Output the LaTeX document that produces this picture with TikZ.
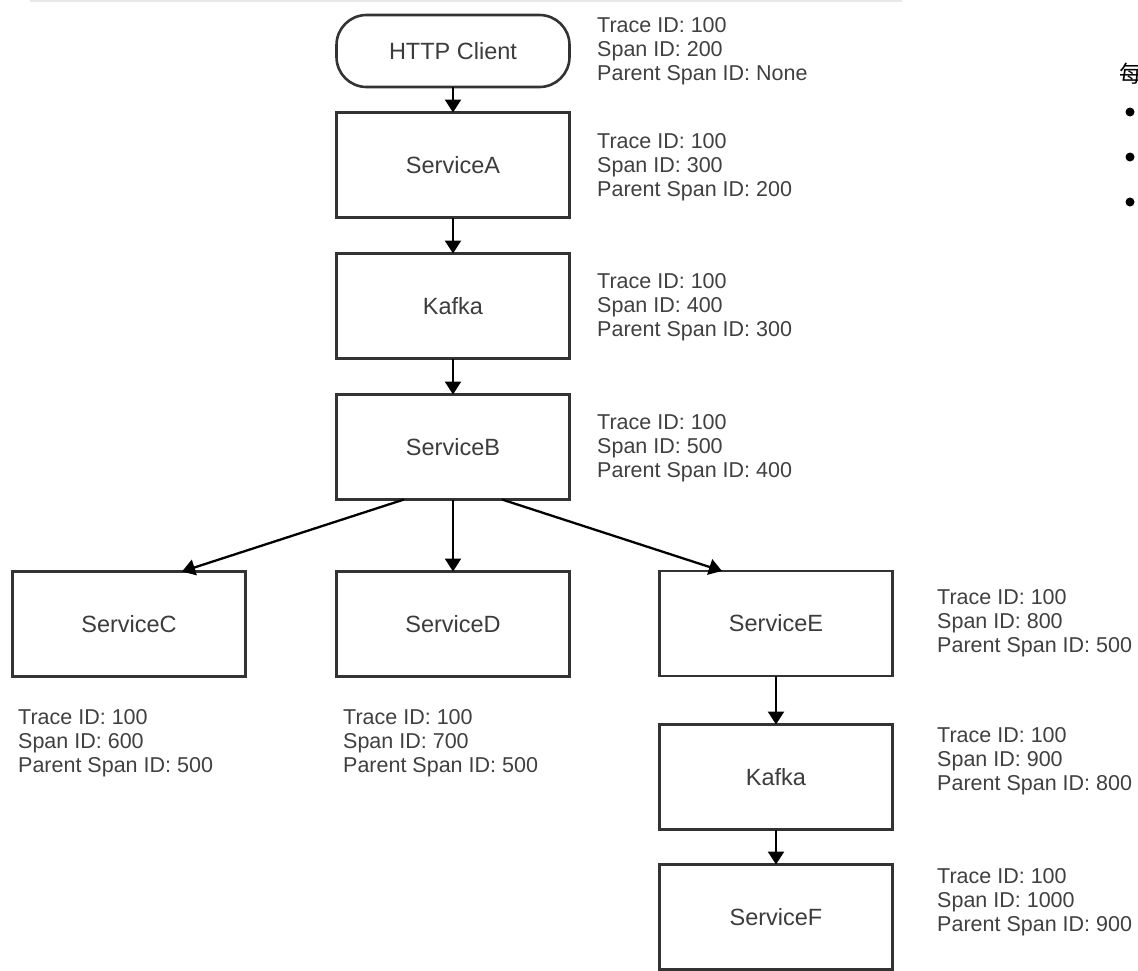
\documentclass[tikz,border=0pt]{standalone}
\usepackage{fontspec}
\setmainfont{Liberation Sans}
\newfontfamily\cjkfont{Noto Sans CJK SC}
\usetikzlibrary{arrows.meta}
\definecolor{boxline}{HTML}{333333}
\definecolor{labeltext}{HTML}{3C3C3C}
\definecolor{notetext}{HTML}{404040}
\definecolor{faint}{HTML}{E8E8E8}
\tikzset{
  svcbox/.style={draw=boxline, line width=2.6pt, minimum width=233pt, minimum height=105pt,
    inner sep=0pt, outer sep=0pt, fill=white, text=labeltext,
    font=\fontsize{23.5}{28}\selectfont},
  termbox/.style={svcbox, minimum height=72pt, rounded corners=30pt},
  note/.style={anchor=west, align=left, inner sep=0pt, text=notetext,
    font=\fontsize{21.5}{24}\selectfont},
  arr/.style={draw=black, line width=2.3pt, -{Triangle[width=16pt,length=13pt]}},
  bullet/.style={circle, fill=black, inner sep=0pt, minimum size=9pt}
}
\begin{document}
\begin{tikzpicture}[x=1pt,y=-1pt]
\useasboundingbox (0,0) rectangle (1138,970);
\clip (0,0) rectangle (1138,970);
\fill[white] (0,0) rectangle (1138,970);
\draw[faint, line width=1.5pt] (30,0.8) -- (902,0.8);

% main column
\node[termbox] (http) at (453,51) {HTTP Client};
\node[svcbox] (A) at (453,165) {ServiceA};
\node[svcbox] (K1) at (453,306) {Kafka};
\node[svcbox] (B) at (453,447) {ServiceB};
% second row
\node[svcbox] (C) at (129,624) {ServiceC};
\node[svcbox] (D) at (453,624) {ServiceD};
\node[svcbox] (E) at (776,623.5) {ServiceE};
\node[svcbox] (K2) at (776,777) {Kafka};
\node[svcbox] (F) at (776,917) {ServiceF};

% annotations
\node[note] (httpN) at (597,51) {Trace ID: 100\\Span ID: 200\\Parent Span ID: None};
\node[note] (AN) at (597,167) {Trace ID: 100\\Span ID: 300\\Parent Span ID: 200};
\node[note] (K1N) at (597,307) {Trace ID: 100\\Span ID: 400\\Parent Span ID: 300};
\node[note] (BN) at (597,448) {Trace ID: 100\\Span ID: 500\\Parent Span ID: 400};
\node[note] (CN) at (18,743) {Trace ID: 100\\Span ID: 600\\Parent Span ID: 500};
\node[note] (DN) at (343,743) {Trace ID: 100\\Span ID: 700\\Parent Span ID: 500};
\node[note] (EN) at (937,623) {Trace ID: 100\\Span ID: 800\\Parent Span ID: 500};
\node[note] (K2N) at (937,761) {Trace ID: 100\\Span ID: 900\\Parent Span ID: 800};
\node[note] (FN) at (937,902) {Trace ID: 100\\Span ID: 1000\\Parent Span ID: 900};

% connectors
\draw[arr] (http) -- (A);
\draw[arr] (A) -- (K1);
\draw[arr] (K1) -- (B);
\draw[arr] ([xshift=-49pt]B.south) -- ([xshift=53pt]C.north);
\draw[arr] (B) -- (D);
\draw[arr] ([xshift=49pt]B.south) -- ([xshift=-54pt]E.north);
\draw[arr] (E) -- (K2);
\draw[arr] (K2) -- (F);

% cut-off list at the top right
\node[anchor=west, inner sep=0pt, font=\cjkfont\fontsize{23}{24}\selectfont] (cjk) at (1119,74) {每};
\node[bullet] (b1) at (1130,112) {};
\node[bullet] (b2) at (1130,157) {};
\node[bullet] (b3) at (1130,202) {};
\end{tikzpicture}
\end{document}
